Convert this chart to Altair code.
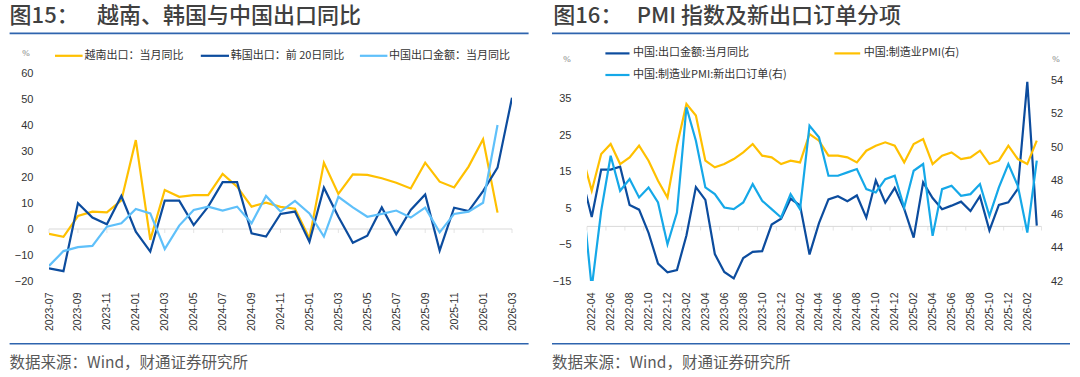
import json
import altair as alt
import pandas as pd

# ---------------- data: left chart (图15) ----------------
months_l = ["2023-07", "2023-08", "2023-09", "2023-10", "2023-11", "2023-12",
            "2024-01", "2024-02", "2024-03", "2024-04", "2024-05", "2024-06",
            "2024-07", "2024-08", "2024-09", "2024-10", "2024-11", "2024-12",
            "2025-01", "2025-02", "2025-03", "2025-04", "2025-05", "2025-06",
            "2025-07", "2025-08", "2025-09", "2025-10", "2025-11", "2025-12",
            "2026-01", "2026-02", "2026-03"]
vietnam = [-1.9, -3.0, 5.0, 6.7, 6.4, 11.0, 34.2, -4.2, 15.0, 12.4, 13.0, 13.0,
           21.2, 16.3, 8.6, 10.1, 8.5, 7.8, -3.6, 25.5, 13.5, 21.0, 20.8, 19.5,
           17.8, 15.6, 25.5, 18.2, 16.0, 24.0, 34.5, 6.3, None]
korea = [-15.1, -16.2, 9.9, 4.4, 1.8, 12.7, -1.0, -8.7, 10.9, 10.9, 1.5, 8.6,
         18.0, 18.0, -1.7, -2.9, 5.8, 6.7, -4.9, 15.9, 4.7, -5.3, -2.6, 8.3,
         -2.0, 7.3, 13.3, -8.3, 8.2, 6.9, 14.6, 23.6, 50.5]
china_l = [-14.2, -8.5, -7.0, -6.5, 0.9, 2.2, 7.7, 6.0, -7.7, 1.3, 7.3, 8.6,
           7.1, 8.6, 2.2, 12.7, 6.7, 10.8, 6.0, -2.9, 12.4, 8.3, 4.7, 5.8,
           7.1, 4.4, 8.2, -1.3, 5.8, 6.7, 10.1, 40.0, None]
names_l = ["越南出口：当月同比", "韩国出口：前 20日同比", "中国出口金额：当月同比"]
colors_l = ["#FFC000", "#0C4C9E", "#5FC0FA"]
yticks_l = [-20, -10, 0, 10, 20, 30, 40, 50, 60]

# ---------------- data: right chart (图16) ----------------
months_r = ["2022-03", "2022-04", "2022-05", "2022-06", "2022-07", "2022-08",
            "2022-09", "2022-10", "2022-11", "2022-12",
            "2023-01", "2023-02", "2023-03", "2023-04", "2023-05", "2023-06",
            "2023-07", "2023-08", "2023-09", "2023-10", "2023-11", "2023-12",
            "2024-01", "2024-02", "2024-03", "2024-04", "2024-05", "2024-06",
            "2024-07", "2024-08", "2024-09", "2024-10", "2024-11", "2024-12",
            "2025-01", "2025-02", "2025-03", "2025-04", "2025-05", "2025-06",
            "2025-07", "2025-08", "2025-09", "2025-10", "2025-11", "2025-12",
            "2026-01", "2026-02", "2026-03"]
export_r = [13.0, 2.6, 15.6, 15.6, 16.4, 5.9, 4.6, -1.8, -10.2, -12.6,
            -12.0, -2.5, 10.8, 7.3, -7.6, -12.5, -14.3, -8.7, -7.0, -6.8, 0.5, 2.1,
            7.6, 5.8, -7.7, 0.9, 7.4, 8.3, 6.9, 8.5, 2.4, 12.6, 6.5, 10.6,
            4.8, -3.1, 12.1, 7.8, 4.7, 5.7, 6.8, 4.2, 8.3, -1.1, 5.9, 6.6,
            10.3, 39.7, 0.2]
pmi = [49.5, 47.4, 49.6, 50.2, 49.0, 49.4, 50.1, 49.2, 48.0, 47.0,
       50.1, 52.6, 51.9, 49.2, 48.8, 49.0, 49.3, 49.7, 50.2, 49.5, 49.4, 49.0,
       49.2, 49.1, 50.8, 50.4, 49.5, 49.5, 49.4, 49.1, 49.8, 50.1, 50.3, 50.1,
       49.1, 50.2, 50.5, 49.0, 49.5, 49.7, 49.3, 49.4, 49.8, 49.0, 49.2, 50.1,
       49.3, 49.0, 50.4]
new_orders = [47.2, 41.6, 46.2, 49.5, 47.4, 48.1, 47.0, 47.6, 46.7, 44.2,
              46.1, 52.4, 50.4, 47.6, 47.2, 46.4, 46.3, 46.7, 47.8, 46.8, 46.3, 45.8,
              47.2, 46.3, 51.3, 50.6, 48.3, 48.3, 48.5, 48.7, 47.5, 47.3, 48.1, 48.3,
              46.4, 48.6, 49.0, 44.7, 47.5, 47.7, 47.1, 47.2, 47.8, 45.9, 47.6, 49.0,
              47.7, 44.9, 49.2]
names_r = ["中国:出口金额:当月同比", "中国:制造业PMI(右)", "中国:制造业PMI:新出口订单(右)"]
colors_r = ["#0C4C9E", "#FFC000", "#15A8E8"]
yticks_r_left = [-15, -5, 5, 15, 25, 35]
yticks_r_right = [42, 44, 46, 48, 50, 52, 54]

# ---------------- layout (pixels) ----------------
OX_L, OY = 49, 73
W_L, H = 463, 208
OX_R = 587
W_R = 454.5
SP = OX_R - OX_L - W_L

CJK = "Noto Sans CJK SC"
LAT = "Liberation Sans"
BLUE = "#2E64AE"
AXC = "#333333"
ZERO = "#D9D9D9"
LW = 2.2


def rel(x, y):
    return alt.value(x - OX_L), alt.value(y - OY)


one = pd.DataFrame({"a": [0]})


def txt(s, x, y, size, color, font=CJK, weight="normal", align="left"):
    xv, yv = rel(x, y)
    return alt.Chart(one).mark_text(text=s, fontSize=size, color=color, font=font,
                                    fontWeight=weight, align=align,
                                    baseline="middle").encode(x=xv, y=yv)


def hrule(x1, x2, y, color, width):
    return alt.Chart(one).mark_rule(color=color, strokeWidth=width).encode(
        x=alt.value(x1 - OX_L), x2=alt.value(x2 - OX_L), y=alt.value(y - OY))


def xaxis(labels, values):
    expr = json.dumps(labels, ensure_ascii=False) + "[datum.value]"
    return alt.Axis(values=values, labelExpr=expr, labelAngle=-90, labelPadding=11,
                    ticks=False, tickSize=0, domain=False, grid=False, title=None,
                    labelOverlap=False, labelFlush=False, labelFontSize=10.5,
                    labelColor=AXC, labelFont=LAT, zindex=2)


def yaxis(values, orient="left", pad=16):
    return alt.Axis(values=values, orient=orient, labelPadding=pad, ticks=False,
                    tickSize=0, domain=False, grid=False, title=None,
                    labelFontSize=11, labelColor=AXC, labelFont=LAT, zindex=2)


# ---------------- left panel ----------------
x_l = alt.X("i:Q", scale=alt.Scale(domain=[0, len(months_l) - 1], nice=False, zero=False),
            axis=xaxis(months_l, list(range(0, len(months_l), 2))))
ys_l = alt.Scale(domain=[-20, 60], nice=False, zero=False)
ya_l = yaxis(yticks_l)


def line_l(vals, color):
    df = pd.DataFrame({"i": list(range(len(vals))), "v": vals}).dropna()
    return alt.Chart(df).mark_line(color=color, strokeWidth=LW, clip=True).encode(
        x=x_l, y=alt.Y("v:Q", scale=ys_l, axis=ya_l))


bg = alt.Chart(one).mark_rect(fill="white").encode(
    x=alt.value(-OX_L), x2=alt.value(1080 - OX_L), y=alt.value(-OY), y2=alt.value(377 - OY))

zero_l = alt.Chart(one).mark_rule(color=ZERO, strokeWidth=1).encode(
    y=alt.Y("z:Q", scale=ys_l, axis=ya_l)).transform_calculate(z="0")
ticks_l_df = pd.DataFrame({"i": list(range(0, len(months_l), 2)), "z": 0})
ticks_l = alt.Chart(ticks_l_df).mark_tick(orient="vertical", color=ZERO, size=4,
                                          thickness=1, yOffset=2).encode(
    x=x_l, y=alt.Y("z:Q", scale=ys_l, axis=ya_l))

TW = 500
deco = [
    txt("图15：", 9.6, 16, 22, "#404040", weight=TW),
    txt("越南、韩国与中国出口同比", 97, 16, 22, "#404040", weight=TW),
    txt("图16：", 553.3, 16, 22, "#404040", weight=TW),
    txt("PMI 指数及新出口订单分项", 636.7, 16, 22, "#404040", weight=TW),
    hrule(9.6, 528.6, 33.4, BLUE, 1.6),
    hrule(552, 1070, 33.4, BLUE, 1.6),
    hrule(9.6, 528.6, 343.7, BLUE, 1.6),
    hrule(552, 1070, 343.7, BLUE, 1.6),
    txt("数据来源：Wind，财通证券研究所", 9.6, 362.6, 15.5, "#595959"),
    txt("数据来源：Wind，财通证券研究所", 552, 362.6, 15.5, "#595959"),
    txt("%", 26, 53.4, 9, "#808080", font="Liberation Serif", align="center"),
    txt("%", 567, 59, 9, "#808080", font="Liberation Serif", align="center"),
    txt("%", 1056, 58.5, 9, "#808080", font="Liberation Serif", align="center"),
]

# legends
leg_l = [(55, 82.6, 84.4, 55.8), (200.8, 229, 230.7, 55.8), (359.9, 387.4, 389, 55.8)]
for (x1, x2, xt, y), name, col in zip(leg_l, names_l, colors_l):
    deco.append(hrule(x1, x2, y, col, LW))
    deco.append(txt(name, xt, y, 11, "#333333"))
leg_r = [(605.4, 629.5, 633, 53.4), (834.4, 860.2, 863.7, 53.4), (605.4, 629.5, 633, 75)]
for (x1, x2, xt, y), name, col in zip(leg_r, names_r, colors_r):
    deco.append(hrule(x1, x2, y, col, LW))
    deco.append(txt(name, xt, y, 11, "#333333"))

left = alt.layer(bg, zero_l, ticks_l,
                 line_l(vietnam, colors_l[0]),
                 line_l(korea, colors_l[1]),
                 line_l(china_l, colors_l[2]),
                 *deco).properties(width=W_L, height=H)

# ---------------- right panel ----------------
x_r = alt.X("j:Q", scale=alt.Scale(domain=[0.5, len(months_r) - 0.5], nice=False, zero=False),
            axis=xaxis(months_r, list(range(1, len(months_r) - 1, 2))))
ys_rl = alt.Scale(domain=[-15, 42.14], nice=False, zero=False)
ya_rl = yaxis(yticks_r_left, "left", 16)
ys_rr = alt.Scale(domain=[42, 54.45], nice=False, zero=False)
ya_rr = yaxis(yticks_r_right, "right", 9)


def line_r(vals, color, scale, axis):
    df = pd.DataFrame({"j": list(range(len(vals))), "v": vals}).dropna()
    return alt.Chart(df).mark_line(color=color, strokeWidth=LW, clip=True).encode(
        x=x_r, y=alt.Y("v:Q", scale=scale, axis=axis))


zero_r = alt.Chart(one).mark_rule(color=ZERO, strokeWidth=1).encode(
    y=alt.Y("z:Q", scale=ys_rl, axis=ya_rl)).transform_calculate(z="0")
ticks_r_df = pd.DataFrame({"j": [0.5 + 2 * k for k in range(25)], "z": 0})
ticks_r = alt.Chart(ticks_r_df).mark_tick(orient="vertical", color=ZERO, size=4,
                                          thickness=1, yOffset=2).encode(
    x=x_r, y=alt.Y("z:Q", scale=ys_rl, axis=ya_rl))

left_axis_layer = alt.layer(zero_r, ticks_r, line_r(export_r, colors_r[0], ys_rl, ya_rl))
right_axis_layer = alt.layer(line_r(pmi, colors_r[1], ys_rr, ya_rr),
                             line_r(new_orders, colors_r[2], ys_rr, ya_rr))
right = alt.layer(left_axis_layer, right_axis_layer).resolve_scale(y="independent").properties(
    width=W_R, height=H)

chart = alt.hconcat(left, right, spacing=SP, bounds="flush").properties(
    padding=0, background="white").configure_view(stroke=None)

chart.save("out.html", embed_options={"renderer": "svg", "actions": False})
